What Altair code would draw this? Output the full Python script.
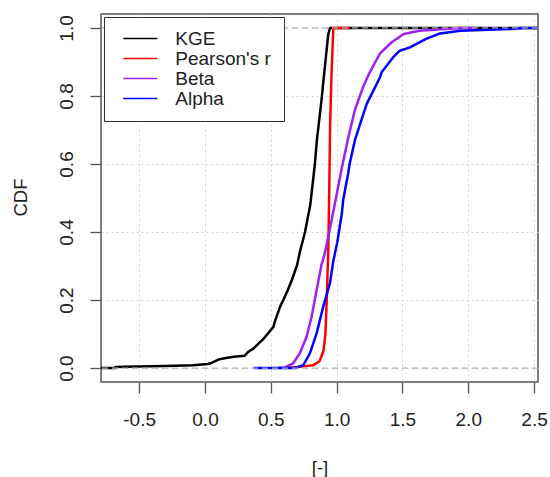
import altair as alt
import pandas as pd

series = ["KGE", "Pearson's r", "Beta", "Alpha"]
colors = ["#000000", "#ff0000", "#a020f0", "#0000ff"]

kge_x = [-0.79, -0.68, -0.68, -0.61, -0.30, -0.09, 0.02, 0.05, 0.11, 0.17, 0.22, 0.30, 0.33, 0.37,
         0.42, 0.44, 0.49, 0.52, 0.53, 0.57, 0.595, 0.63, 0.66, 0.70, 0.72, 0.76, 0.80, 0.835, 0.85,
         0.886, 0.90, 0.936, 0.95, 2.53]
kge_y = [0.0, 0.0, 0.003, 0.004, 0.006, 0.008, 0.012, 0.015, 0.026, 0.030, 0.033, 0.036, 0.048, 0.058,
         0.077, 0.084, 0.107, 0.121, 0.136, 0.18, 0.20, 0.23, 0.259, 0.303, 0.34, 0.40, 0.48, 0.60, 0.67,
         0.79, 0.845, 0.98, 1.0, 1.0]

pear_x = [0.62, 0.70, 0.82, 0.87, 0.90, 0.915, 0.925, 0.937, 0.945, 0.95, 0.96, 0.975, 1.10]
pear_y = [0.0, 0.003, 0.008, 0.02, 0.05, 0.10, 0.20, 0.35, 0.55, 0.70, 0.85, 1.0, 1.0]

beta_x = [0.55, 0.607, 0.67, 0.72, 0.772, 0.81, 0.848, 0.886, 0.91, 0.96, 0.99, 1.04, 1.09, 1.139,
          1.202, 1.25, 1.29, 1.33, 1.418, 1.51, 1.63, 1.94, 2.05]
beta_y = [0.0, 0.002, 0.014, 0.043, 0.092, 0.151, 0.229, 0.305, 0.337, 0.43, 0.49, 0.59, 0.68, 0.759,
          0.827, 0.868, 0.897, 0.925, 0.958, 0.982, 0.992, 1.0, 1.0]

alpha_x = [0.37, 0.69, 0.747, 0.797, 0.848, 0.898, 0.949, 0.975, 1.005, 1.04, 1.05, 1.088, 1.10,
           1.139, 1.164, 1.228, 1.33, 1.342, 1.43, 1.48, 1.557, 1.68, 1.785, 1.94, 2.32, 2.42, 2.53]
alpha_y = [0.0, 0.0, 0.009, 0.043, 0.102, 0.18, 0.249, 0.315, 0.37, 0.455, 0.494, 0.573, 0.602,
           0.67, 0.70, 0.776, 0.855, 0.87, 0.914, 0.933, 0.943, 0.968, 0.984, 0.992, 0.997, 1.0, 1.0]

x_ticks = [-0.5, 0.0, 0.5, 1.0, 1.5, 2.0, 2.5]
y_ticks = [0.0, 0.2, 0.4, 0.6, 0.8, 1.0]
ref_levels = [0.0, 1.0]

rows = []
for name, xs, ys in zip(series, [kge_x, pear_x, beta_x, alpha_x], [kge_y, pear_y, beta_y, alpha_y]):
    for i, (xv, yv) in enumerate(zip(xs, ys)):
        rows.append({"series": name, "x": xv, "y": yv, "i": i})
df = pd.DataFrame(rows)

FONT = "Liberation Sans"
fmt_expr = "datum.value < 0 ? '-' + format(-datum.value, '.1f') : format(datum.value, '.1f')"

xscale = alt.Scale(domain=[-0.79, 2.53], nice=False, zero=False)
yscale = alt.Scale(domain=[-0.041, 1.041], nice=False, zero=False)

xaxis = alt.Axis(values=x_ticks, labelExpr=fmt_expr, title="[-]", grid=True,
                 gridColor="#d3d3d3", gridDash=[2, 3], gridWidth=1, domain=False,
                 tickSize=11, tickColor="#555555", tickWidth=1.3,
                 labelFontSize=19, labelColor="#222222", labelPadding=17,
                 labelFlush=False, labelOverlap=False, labelBaseline="top",
                 titleFontSize=18.5, titleFontWeight="normal", titleColor="#222222",
                 titleX=218.5, titleY=85, titleBaseline="middle", titleAlign="center")
yaxis = alt.Axis(values=y_ticks, labelExpr=fmt_expr, title="CDF", grid=True,
                 gridColor="#d3d3d3", gridDash=[2, 3], gridWidth=1, domain=False,
                 tickSize=11, tickColor="#555555", tickWidth=1.3,
                 labelFontSize=19, labelColor="#222222", labelPadding=24,
                 labelAngle=270, labelAlign="center", labelBaseline="middle",
                 labelFlush=False, labelOverlap=False,
                 titleFontSize=18.5, titleFontWeight="normal", titleColor="#222222",
                 titleX=-81, titleY=183, titleAngle=270, titleBaseline="middle", titleAlign="center")

legend = alt.Legend(title=None, orient="none", legendX=3, legendY=3, symbolType="stroke",
                    symbolSize=1156, symbolStrokeWidth=1.5, clipHeight=18.6, rowPadding=0,
                    labelFontSize=19, labelColor="#222222", labelOffset=17, symbolOffset=6,
                    padding=12.3, strokeColor="#333333", fillColor="white", labelLimit=300)

color = alt.Color("series:N", scale=alt.Scale(domain=series, range=colors), legend=legend)

base = alt.Chart(df)
layers = []
for s in series:
    layers.append(
        base.transform_filter(alt.datum.series == s)
        .mark_line(strokeWidth=2.5, strokeJoin="round")
        .encode(x=alt.X("x:Q", scale=xscale, axis=xaxis),
                y=alt.Y("y:Q", scale=yscale, axis=yaxis),
                color=color,
                order="i:Q")
    )

rules = alt.Chart(pd.DataFrame({"v": ref_levels})).mark_rule(
    color="#b3b3b3", strokeDash=[6, 4], strokeWidth=1.2
).encode(y=alt.Y("v:Q", scale=yscale, axis=yaxis))

chart = alt.layer(*layers, rules).properties(
    width=437, height=368,
    padding={"left": 101, "top": 14, "right": 12, "bottom": 95},
    autosize=alt.AutoSizeParams(type="none"),
).configure(font=FONT).configure_view(stroke="#555555", strokeWidth=1.5)

chart.save("out.html", embed_options={"renderer": "svg", "actions": False})
